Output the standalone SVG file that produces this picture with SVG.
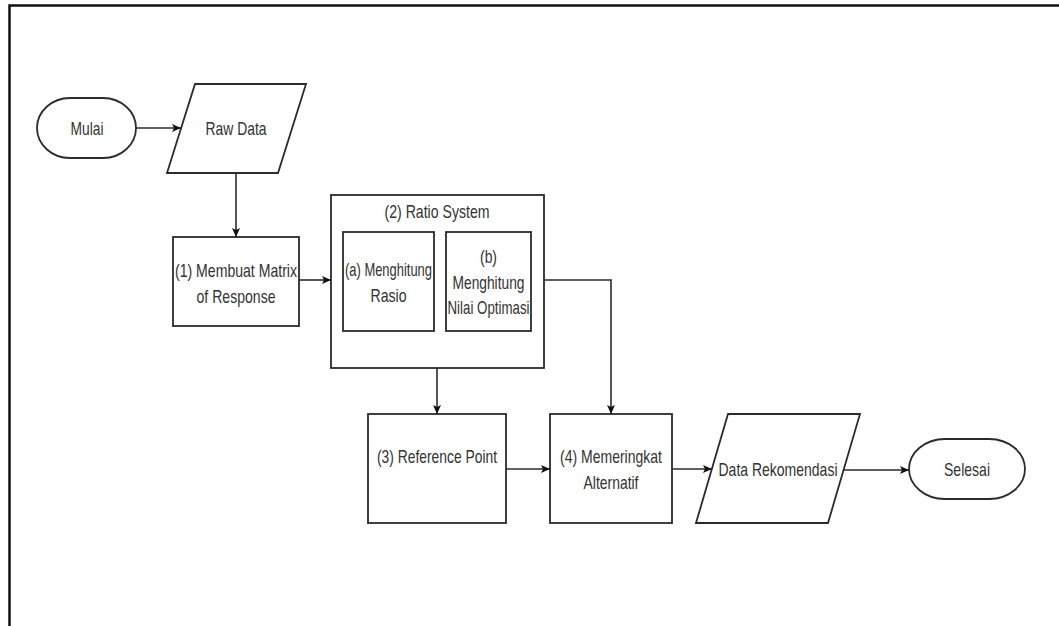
<svg xmlns="http://www.w3.org/2000/svg" width="1059" height="626" viewBox="0 0 1059 626">
<style>
.s{fill:#fff;stroke:#2b2b2b;stroke-width:1.8}
.t{font-family:"Liberation Sans",Arial,sans-serif;font-size:19px;fill:#333;text-anchor:middle}
.c{fill:none;stroke:#2b2b2b;stroke-width:1.6}
.f{fill:none;stroke:#111;stroke-width:2.5}
</style>
<defs>
<marker id="a" markerWidth="10" markerHeight="8" refX="9" refY="4" orient="auto" markerUnits="userSpaceOnUse">
<path d="M0,0 L9,4 L0,8 L2,4 Z" fill="#111"/>
</marker>
</defs>
<rect width="1059" height="626" fill="#fff"/>
<path class="f" d="M9.5,626 V5.5 H1059"/>
<g id="mulai">
<rect class="s" x="37" y="98" width="99" height="60" rx="33" ry="30"/>
<text class="t" x="87" y="135" textLength="33" lengthAdjust="spacingAndGlyphs">Mulai</text>
</g>
<g id="rawdata">
<polygon class="s" points="195,84 306,84 278,173 167,173"/>
<text class="t" x="236" y="135" textLength="61" lengthAdjust="spacingAndGlyphs">Raw Data</text>
</g>
<g id="step1">
<rect class="s" x="173" y="237" width="126" height="89"/>
<text class="t" x="236" y="277" textLength="122" lengthAdjust="spacingAndGlyphs">(1) Membuat Matrix</text>
<text class="t" x="236" y="303" textLength="79" lengthAdjust="spacingAndGlyphs">of Response</text>
</g>
<g id="step2">
<rect class="s" x="331" y="195" width="213" height="173"/>
<text class="t" x="437" y="218" textLength="105" lengthAdjust="spacingAndGlyphs">(2) Ratio System</text>
</g>
<g id="step2a">
<rect class="s" x="343" y="232" width="91" height="99"/>
<text class="t" x="388.5" y="276" textLength="87" lengthAdjust="spacingAndGlyphs">(a) Menghitung</text>
<text class="t" x="388.5" y="302" textLength="36" lengthAdjust="spacingAndGlyphs">Rasio</text>
</g>
<g id="step2b">
<rect class="s" x="446" y="232" width="85" height="99"/>
<text class="t" x="488.5" y="263" textLength="17" lengthAdjust="spacingAndGlyphs">(b)</text>
<text class="t" x="488.5" y="289" textLength="72" lengthAdjust="spacingAndGlyphs">Menghitung</text>
<text class="t" x="488.5" y="314" textLength="82" lengthAdjust="spacingAndGlyphs">Nilai Optimasi</text>
</g>
<g id="step3">
<rect class="s" x="368" y="414" width="138" height="109"/>
<text class="t" x="437" y="463" textLength="120" lengthAdjust="spacingAndGlyphs">(3) Reference Point</text>
</g>
<g id="step4">
<rect class="s" x="550" y="414" width="122" height="109"/>
<text class="t" x="611" y="463" textLength="102" lengthAdjust="spacingAndGlyphs">(4) Memeringkat</text>
<text class="t" x="611" y="489" textLength="55" lengthAdjust="spacingAndGlyphs">Alternatif</text>
</g>
<g id="datarek">
<polygon class="s" points="728,414 860,414 828,523 696,523"/>
<text class="t" x="778" y="476" textLength="119" lengthAdjust="spacingAndGlyphs">Data Rekomendasi</text>
</g>
<g id="selesai">
<rect class="s" x="909" y="439" width="116" height="60" rx="36" ry="30"/>
<text class="t" x="967" y="476" textLength="46" lengthAdjust="spacingAndGlyphs">Selesai</text>
</g>
<g id="connectors">
<path class="c" d="M136,128 H181" marker-end="url(#a)"/>
<path class="c" d="M236,173 V237" marker-end="url(#a)"/>
<path class="c" d="M299,280 H331" marker-end="url(#a)"/>
<path class="c" d="M437,368 V414" marker-end="url(#a)"/>
<path class="c" d="M544,280 H611 V414" marker-end="url(#a)"/>
<path class="c" d="M506,469 H550" marker-end="url(#a)"/>
<path class="c" d="M672,469 H712" marker-end="url(#a)"/>
<path class="c" d="M844,470 H909" marker-end="url(#a)"/>
</g>
</svg>
